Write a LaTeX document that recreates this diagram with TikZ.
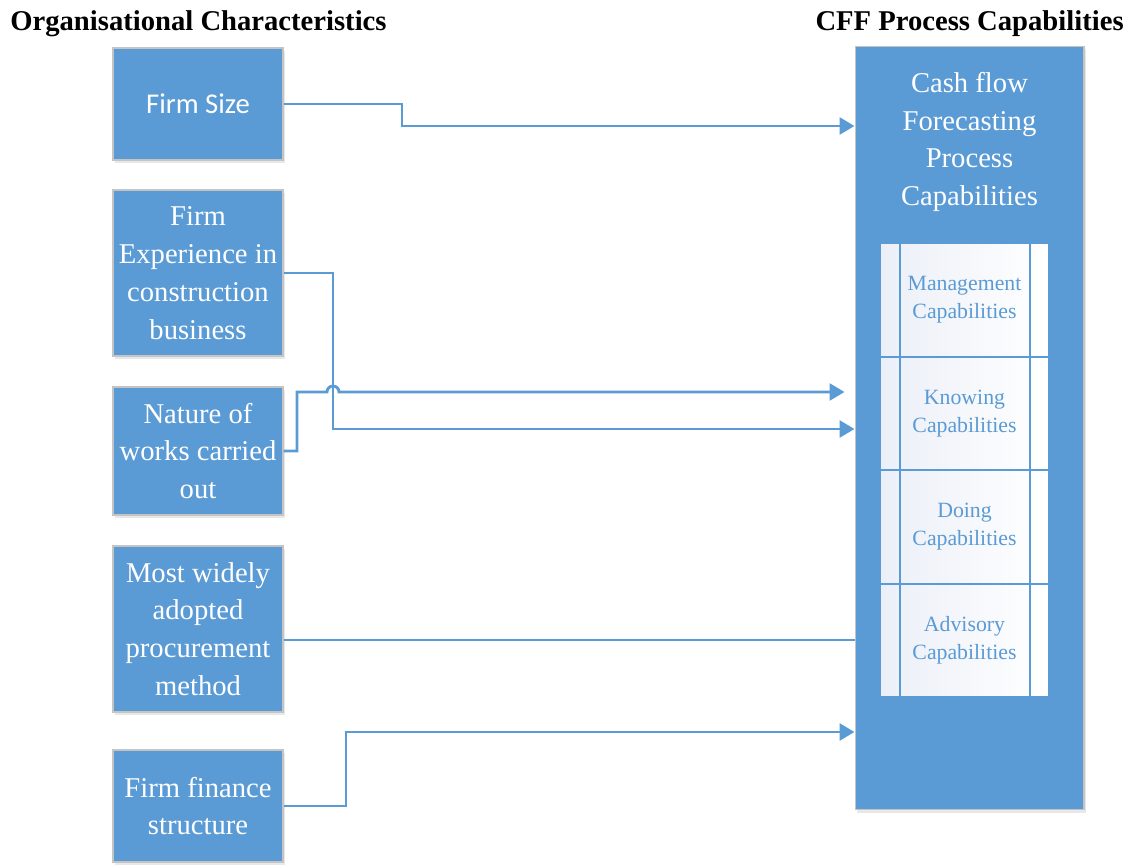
\documentclass[tikz,border=0pt]{standalone}
\usepackage{fontspec}
\setmainfont{Liberation Serif}
\newfontfamily\calib{Carlito}
\usepackage{xcolor}
\usepackage{tikz}
\usetikzlibrary{arrows.meta}
\usetikzlibrary{positioning}
\usetikzlibrary{shadows}
\definecolor{boxblue}{HTML}{5B9BD5}
\definecolor{linkblue}{HTML}{5B9BD5}
\definecolor{cellshade}{HTML}{EBEFF7}
\definecolor{boxrim}{HTML}{C4C4C4}

\begin{document}
\begin{tikzpicture}[x=0.02cm, y=-0.02cm]
\tikzstyle{charbox}=[
    rectangle,
    draw=boxrim,
    line width=0.6pt,
    fill=boxblue,
    text=white,
    align=center,
    inner sep=0pt,
    minimum width=3.4cm, % ancho de caja
    font=\fontsize{16.3}{21.5}\selectfont,
    drop shadow={shadow xshift=1.2pt, shadow yshift=-1.8pt, opacity=0.18}
]
\tikzstyle{cffbox}=[charbox, minimum width=4.58cm, minimum height=15.28cm]
\tikzstyle{cell}=[
    rectangle,
    draw=linkblue,
    line width=0.9pt,
    shading=axis,
    shading angle=60,
    left color=cellshade,
    right color=white,
    text=linkblue,
    align=center,
    minimum width=3.38cm,
    minimum height=2.27cm,
    font=\fontsize{12.4}{15.9}\selectfont
]
\tikzstyle{heading}=[font=\fontsize{16.3}{20}\selectfont\bfseries, inner sep=0pt]
\tikzstyle{link}=[-{Triangle[length=0.3cm, width=0.34cm]}, line width=1.6pt, linkblue]
\tikzstyle{plainlink}=[-, line width=1.6pt, linkblue]

\useasboundingbox (0,0) rectangle (1134,865);

% Titulos
\node[heading, anchor=base west] (orgtitle) at (10,31) {Organisational Characteristics};
\node[heading, anchor=base east] (cfftitle) at (1124,31) {CFF Process Capabilities};

% Cajas izquierda
\node[charbox, minimum height=2.24cm, font=\fontsize{16.3}{21.5}\selectfont\calib] (size) at (198,104) {Firm Size};
\node[charbox, minimum height=3.32cm] (exper) at (198,273) {Firm\\Experience in\\construction\\business};
\node[charbox, minimum height=2.56cm] (nature) at (198,451) {Nature of\\works carried\\out};
\node[charbox, minimum height=3.32cm] (procure) at (198,629) {Most widely\\adopted\\procurement\\method};
\node[charbox, minimum height=2.24cm] (finance) at (198,806) {Firm finance\\structure};

% Caja derecha
\node[cffbox] (cff) at (969.5,428) {};
\node[text=white, align=center, font=\fontsize{16.3}{21.5}\selectfont] (cffname) at (969.5,142)
    {Cash flow\\Forecasting\\Process\\Capabilities};

\node[cell] (mgmt) at (964.5,300) {Management\\Capabilities};
\node[cell] (know) at (964.5,413.5) {Knowing\\Capabilities};
\node[cell] (doing) at (964.5,527) {Doing\\Capabilities};
\node[cell] (advis) at (964.5,640.5) {Advisory\\Capabilities};
\draw[linkblue, line width=0.9pt] (mgmt.north -| 900,0) -- (advis.south -| 900,0);
\draw[linkblue, line width=0.9pt] (mgmt.north -| 1030,0) -- (advis.south -| 1030,0);

% Conectores
\draw[link] (size.east) -| (402,126) -- (cff.west |- 0,126);
\draw[link] (exper.east) -| (333,429) -- (cff.west |- 0,429);
\draw[link, shorten >=0.2cm] (nature.east) -| (297,392) -- (327,392)
    arc[start angle=180, end angle=0, radius=0.12cm] -- (cff.west |- 0,392);
\draw[plainlink] (procure.east |- 0,640) -- (cff.west |- 0,640);
\draw[link] (finance.east) -| (346,732) -- (cff.west |- 0,732);

\end{tikzpicture}
\end{document}
